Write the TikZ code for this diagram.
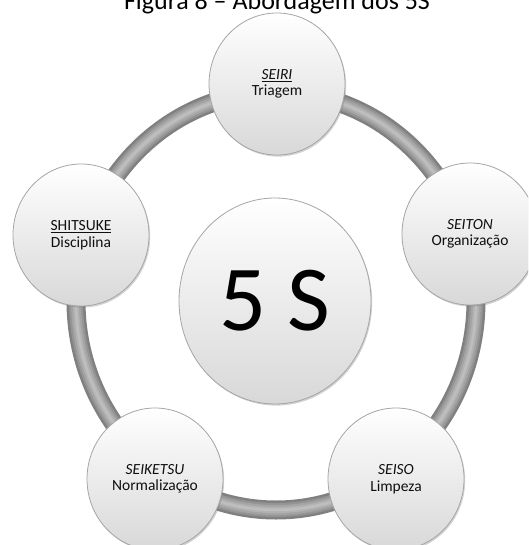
\documentclass[tikz,border=0pt]{standalone}
\usepackage{fontspec}
\setmainfont{Carlito}
\usetikzlibrary{shapes.geometric,shadows}
\definecolor{tubeA}{RGB}{128,128,128}
\definecolor{tubeB}{RGB}{148,148,148}
\definecolor{tubeC}{RGB}{164,164,164}
\definecolor{tubeD}{RGB}{178,178,178}
\definecolor{tubeE}{RGB}{190,190,190}
\definecolor{rimgray}{RGB}{165,165,165}
\definecolor{ballbottom}{RGB}{216,216,216}
\definecolor{labeltext}{RGB}{15,15,15}
\begin{document}
\begin{tikzpicture}[x=1pt,y=-1pt,
  ball/.style={ellipse, inner sep=0pt, minimum width=136pt, minimum height=142pt,
    draw=rimgray, line width=0.8pt, top color=white, bottom color=ballbottom,
    drop shadow={shadow xshift=1.2pt, shadow yshift=-1.6pt, opacity=0.35},
    font=\fontsize{15.5}{16.5}\selectfont, align=center, text=labeltext},
  bigball/.style={ball, minimum width=192pt, minimum height=206pt,
    font=\fontsize{93}{93}\selectfont, text=black},
  tube/.style={line width=#1}]
\useasboundingbox (0,0) rectangle (528,545);
\clip (0,0) rectangle (528,545);
\coordinate (c) at (276,301);
% ring (tube)
\draw[tube=19pt, tubeA] (c) ellipse [x radius=200, y radius=209];
\draw[tube=14pt, tubeB] (c) ellipse [x radius=200, y radius=209];
\draw[tube=10pt, tubeC] (c) ellipse [x radius=200, y radius=209];
\draw[tube=6pt, tubeD] (c) ellipse [x radius=200, y radius=209];
\draw[tube=2.5pt, tubeE] (c) ellipse [x radius=200, y radius=209];
% title
\node[anchor=base, font=\fontsize{26}{30}\selectfont] (title) at (277,10) {Figura 8 – Abordagem dos 5S};
% balls
\node[ball] (seiri) at (277,84) {\underline{\textit{SEIRI}}\\Triagem};
\node[ball] (seiton) at (470,234) {\textit{SEITON}\\Organização};
\node[ball] (seiso) at (396,479) {\textit{SEISO}\\Limpeza};
\node[ball] (seiketsu) at (155,479) {\textit{SEIKETSU}\\Normalização};
\node[ball] (shitsuke) at (81,235) {\underline{SHITSUKE}\\Disciplina};
\node[bigball] (center) at (275,301) {5 S};
\end{tikzpicture}
\end{document}
